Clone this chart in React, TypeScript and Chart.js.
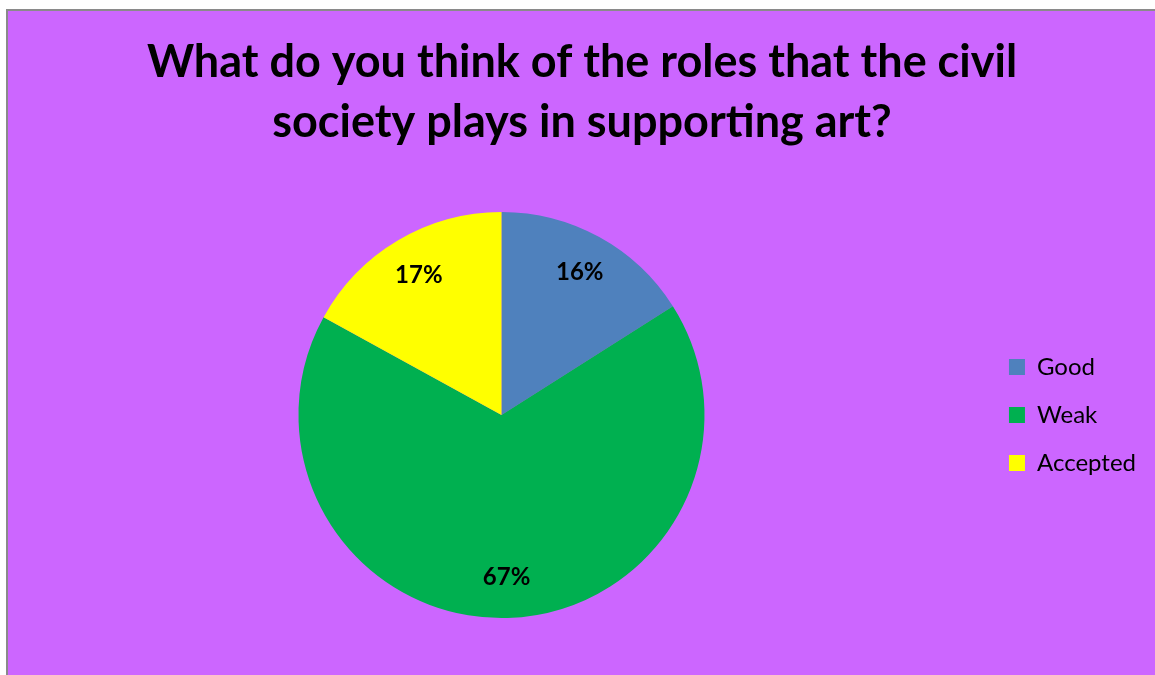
import React, { useEffect, useRef } from "react";
import { Chart, registerables } from "chart.js";

Chart.register(...registerables);

const categories = ["Good", "Weak", "Accepted"];
const percentages = [16, 67, 17];
const sliceColors = ["#4F81BD", "#00B050", "#FFFF00"];
const titleLines = ["What do you think of the roles that the civil", "society plays in supporting art?"];

const FONT = "Lato, 'Liberation Sans', sans-serif";

const labelPlugin = {
  id: "pctLabels",
  afterDatasetsDraw(chart: any) {
    const ctx = chart.ctx;
    const meta = chart.getDatasetMeta(0);
    ctx.save();
    ctx.fillStyle = "#000";
    ctx.font = `bold 24px ${FONT}`;
    ctx.textAlign = "center";
    ctx.textBaseline = "middle";
    meta.data.forEach((arc: any, i: number) => {
      const p = arc.getProps(["x", "y", "startAngle", "endAngle", "outerRadius"], true);
      const mid = (p.startAngle + p.endAngle) / 2;
      const r = p.outerRadius * 0.8;
      ctx.fillText(percentages[i] + "%", p.x + Math.cos(mid) * r, p.y + Math.sin(mid) * r);
    });
    ctx.restore();
  },
};

export default function App() {
  const ref = useRef<HTMLCanvasElement>(null);
  useEffect(() => {
    document.body.style.margin = "0";
    const chart = new Chart(ref.current!, {
      type: "pie",
      data: {
        labels: categories,
        datasets: [
          {
            data: percentages,
            backgroundColor: sliceColors,
            borderWidth: 0,
          },
        ],
      },
      options: {
        responsive: false,
        animation: false,
        layout: { padding: { left: 18, right: 9, top: 0, bottom: 57 } },
        plugins: {
          title: {
            display: true,
            text: titleLines,
            color: "#000",
            font: { family: FONT, size: 45, weight: "bold", lineHeight: 60 / 45 },
            padding: { top: 32, bottom: 60 },
          },
          legend: {
            position: "right",
            fullSize: false,
            labels: {
              color: "#000",
              boxWidth: 16,
              boxHeight: 16,
              padding: 24,
              font: { family: FONT, size: 24 },
            },
          },
          tooltip: { enabled: false },
        },
      },
      plugins: [labelPlugin],
    });
    return () => chart.destroy();
  }, []);
  return (
    <div style={{ position: "relative", width: 1155, height: 675, background: "#fff", overflow: "hidden" }}>
      <div
        style={{
          position: "absolute",
          left: 6,
          top: 9,
          right: -10,
          bottom: -10,
          background: "#CC66FF",
          borderLeft: "2px solid #8A8A8A",
          borderTop: "2px solid #8A8A8A",
        }}
      />
      <canvas ref={ref} width={1155} height={675} style={{ position: "absolute", left: 0, top: 0 }} />
    </div>
  );
}
